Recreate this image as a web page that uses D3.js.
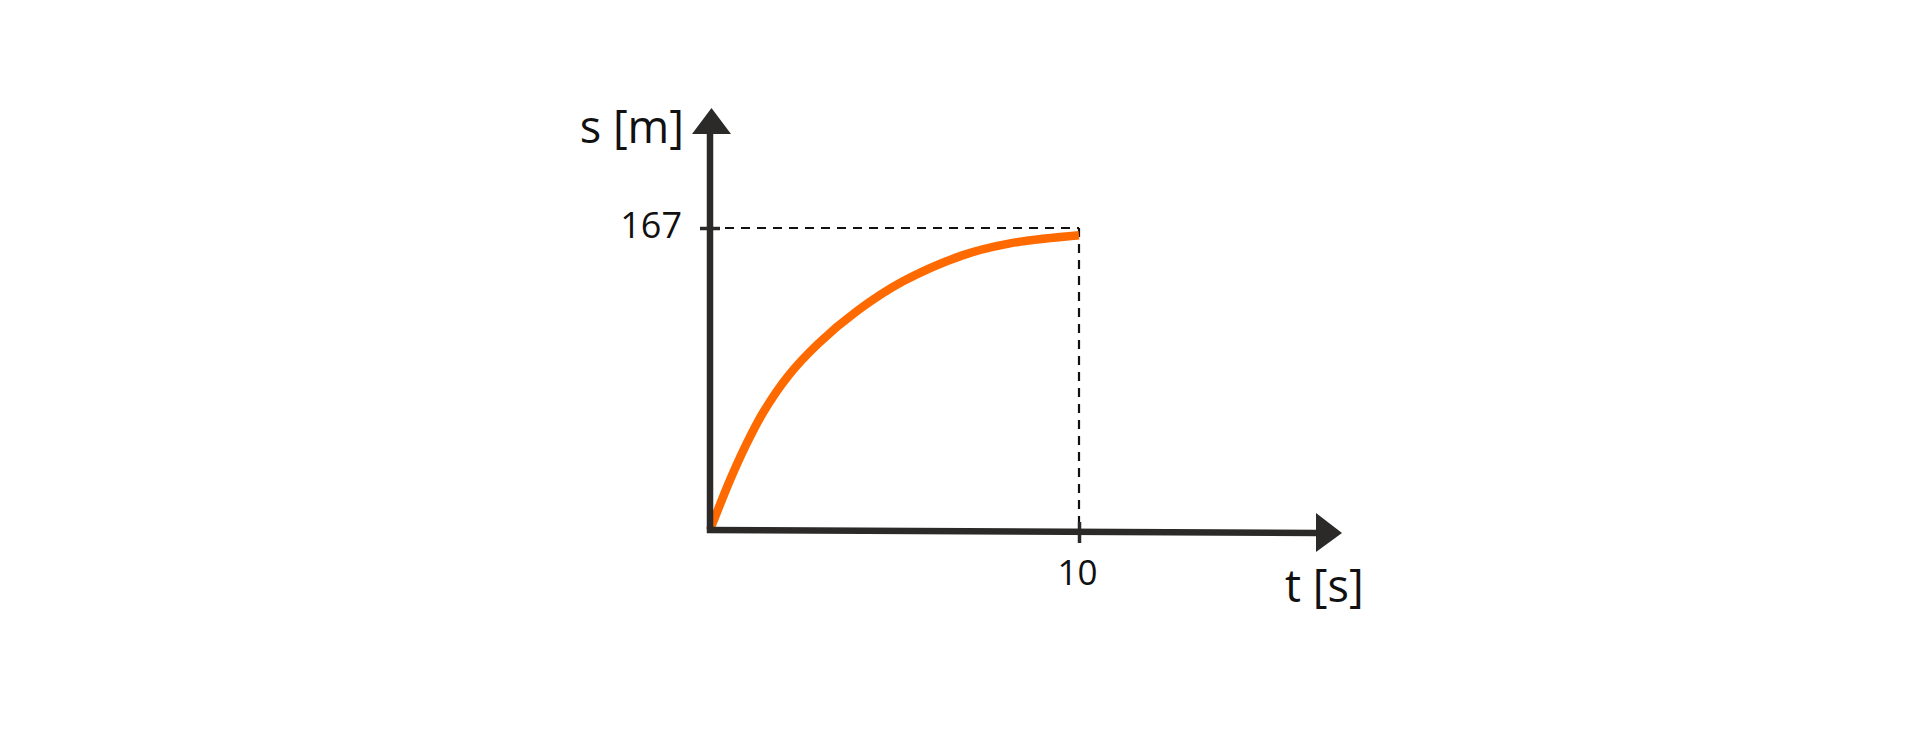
<!DOCTYPE html>
<html>
<head>
<meta charset="utf-8">
<script src="https://cdn.jsdelivr.net/npm/d3@7"></script>
<style>
  body { margin: 0; background: #fff; }
  text { font-family: "Open Sans", sans-serif; fill: #111; }
</style>
</head>
<body>
<svg></svg>
<script>
//	data
var times = [0, 0.54, 0.95, 1.44, 2.11, 2.93, 3.98, 5.23, 6.86, 8.13, 10];
var dist  = [0, 27.5, 46, 65, 85, 103, 121, 137.5, 152, 158.5, 163];
var xTicks = [10],
    yTicks = [167];
var xTitle = "t [s]",
    yTitle = "s [m]";

var width = 1920,
    height = 729;

var axisColor = "#2b2a29",
    curveColor = "#ff6a00";

var svg = d3.select("svg").attr("width", width).attr("height", height);

//	scales
var x = d3.scaleLinear().domain([0, 10]).range([710, 1079]);
var y = d3.scaleLinear().domain([0, 167]).range([530, 228]);

//	dashed guides to the marked point
var gx = x(xTicks[0]), gy = y(yTicks[0]);
svg.append("line")
    .attr("x1", x(0) + 15).attr("x2", gx)
    .attr("y1", gy).attr("y2", gy)
    .attr("stroke", "#111").attr("stroke-width", 2.2)
    .attr("stroke-dasharray", "9,7");
svg.append("line")
    .attr("x1", gx).attr("x2", gx)
    .attr("y1", gy).attr("y2", y(0) - 8)
    .attr("stroke", "#111").attr("stroke-width", 2.2)
    .attr("stroke-dasharray", "9,7");

//	curve
var line = d3.line()
    .x(function(d, i) { return x(times[i]); })
    .y(function(d) { return y(d); })
    .curve(d3.curveCatmullRom.alpha(0.5));

svg.append("path")
    .datum(dist)
    .attr("d", line)
    .attr("fill", "none")
    .attr("stroke", curveColor)
    .attr("stroke-width", 8.5)
    .attr("stroke-linecap", "butt");

//	axis lines with arrow heads
svg.append("line")
    .attr("x1", x(0)).attr("x2", x(0))
    .attr("y1", y(0) + 3).attr("y2", 132)
    .attr("stroke", axisColor).attr("stroke-width", 6.5);
svg.append("path")
    .attr("d", "M711.5,108L692,134L731,134Z")
    .attr("fill", axisColor);

svg.append("line")
    .attr("x1", x(0) - 3).attr("x2", 1318)
    .attr("y1", y(0)).attr("y2", y(0) + 3)
    .attr("stroke", axisColor).attr("stroke-width", 6.5);
svg.append("path")
    .attr("d", "M1342,533L1316,513L1316,552Z")
    .attr("fill", axisColor);

//	ticks
var xAxis = svg.append("g")
    .attr("transform", "translate(0," + y(0) + ")")
    .call(d3.axisBottom(x).tickValues(xTicks).tickFormat(d3.format("d")));
xAxis.select(".domain").remove();
xAxis.selectAll(".tick line")
    .attr("y1", -8).attr("y2", 13)
    .attr("stroke", axisColor).attr("stroke-width", 3.5);
xAxis.selectAll(".tick text")
    .attr("y", 55).attr("dy", 0).attr("dx", -2)
    .attr("font-size", 35).attr("font-family", "Open Sans").attr("fill", "#111");

var yAxis = svg.append("g")
    .attr("transform", "translate(" + x(0) + ",0)")
    .call(d3.axisLeft(y).tickValues(yTicks).tickFormat(d3.format("d")));
yAxis.select(".domain").remove();
yAxis.selectAll(".tick line")
    .attr("x1", -10).attr("x2", 10)
    .attr("stroke", axisColor).attr("stroke-width", 3.5);
yAxis.selectAll(".tick text")
    .attr("x", -28).attr("dy", 9)
    .attr("font-size", 36).attr("font-family", "Open Sans").attr("fill", "#111");

//	axis titles
svg.append("text")
    .attr("x", 684).attr("y", 143)
    .attr("text-anchor", "end")
    .attr("font-size", 45)
    .text(yTitle);
svg.append("text")
    .attr("x", 1285).attr("y", 602)
    .attr("font-size", 45)
    .text(xTitle);
</script>
</body>
</html>
